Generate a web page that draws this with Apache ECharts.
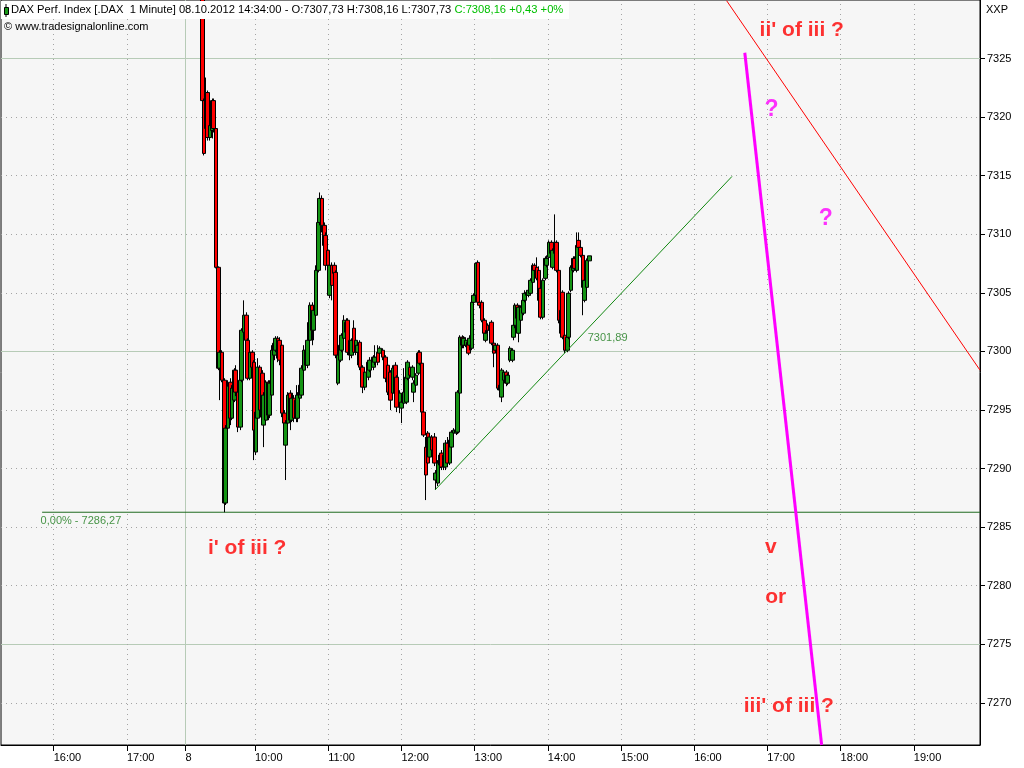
<!DOCTYPE html>
<html><head><meta charset="utf-8">
<script src="https://cdn.jsdelivr.net/npm/echarts@6/dist/echarts.min.js"></script>
<style>html,body{margin:0;padding:0;background:#fff}#c{width:1024px;height:768px}</style>
</head><body><div id="c"></div>
<script>
// ---- time of each candle: minutes after 09:00 on 08.10.2012 ----
const candleTimes = [
17,18,20,21,23,25,26,28,30,31,
33,35,36,38,40,41,43,44,46,48,
49,51,53,54,56,58,59,61,62,64,
66,67,69,71,72,74,76,77,79,80,
82,84,85,87,89,90,92,94,95,97,
98,100,102,103,105,107,108,110,112,113,
115,117,118,120,121,123,125,126,128,130,
131,133,135,136,138,139,141,143,144,146,
148,150,153,154,157,158,161,162,165,167,
169,171,173,175,176,179,180,182,184,185,
187,189,190,192,194,195,197,198,200,202,
203,205,207,208,210,212,213,215,216,218,
220,221,223,225,226,228,230,231,233,235,
236,238,239,241,243,244,246,248,249,251,
253,254,256,257,259,261,262,264,266,267,
269,271,272,273,275,276,278,280,281,283,
284,286,288,289,291,293,294,296,298,299,
301,303,304,306,307,309,311,312,314,316,
317,319,321,322,324,325,327,329,330,332,
334];
const opens = [
7333.5,7321.41,7319.03,7322.10,7318.26,7318.86,7321.41,7319.03,7307.18,7298.57,
7299.93,7297.54,7287.06,7293.45,7297.37,7294.30,7295.84,7298.40,7296.52,7293.54,
7297.54,7301.64,7303.09,7300.95,7297.71,7299.93,7299.08,7291.41,7294.30,7298.65,
7298.14,7293.71,7294.13,7297.37,7294.56,7296.27,7299.68,7300.10,7301.12,7300.95,
7300.53,7294.73,7292.00,7293.88,7296.44,7294.13,7296.01,7295.84,7294.30,7296.01,
7296.27,7298.40,7300.10,7298.82,7300.95,7303.94,7301.81,7303.09,7306.92,7311.01,
7313.06,7310.76,7309.91,7308.63,7304.79,7307.35,7307.35,7306.75,7297.29,7299.25,
7300.10,7301.12,7302.49,7302.66,7300.95,7299.68,7301.98,7299.93,7299.93,7300.78,
7298.65,7296.95,7297.80,7298.40,7298.65,7299.08,7299.93,7299.85,7300.10,7299.51,
7298.82,7298.23,7296.44,7298.82,7297.80,7295.24,7295.16,7295.58,7295.67,7297.71,
7298.65,7297.80,7296.52,7297.12,7298.14,7299.93,7298.99,7294.82,7291.83,7293.03,
7290.98,7292.69,7292.69,7289.02,7288.76,7290.30,7291.32,7290.13,7290.13,7292.17,
7290.47,7291.83,7293.03,7293.03,7293.11,7296.44,7301.21,7300.53,7300.53,7300.78,
7300.53,7300.27,7304.19,7304.79,7307.60,7304.19,7304.19,7302.66,7300.95,7302.23,
7301.81,7302.49,7300.70,7300.10,7300.53,7296.69,7296.10,7297.54,7298.23,7297.29,
7299.25,7299.25,7301.21,7302.23,7303.94,7301.55,7302.66,7303.26,7304.36,7304.79,
7304.79,7304.96,7305.90,7307.35,7307.18,7306.92,7305.39,7302.92,7306.24,7307.35,
7308.03,7309.31,7307.18,7308.37,7309.31,7306.92,7301.55,7305.05,7301.38,7300.10,
7301.21,7305.22,7306.92,7307.94,7306.92,7309.48,7308.88,7308.20,7304.36,7305.47,
7307.73];
const closes = [
7321.41,7316.90,7322.10,7318.26,7319.28,7321.41,7319.03,7307.18,7298.57,7299.93,
7297.54,7287.06,7293.45,7297.03,7294.30,7296.86,7298.40,7296.52,7293.54,7297.54,
7301.81,7303.09,7300.95,7297.71,7299.93,7298.65,7293.28,7294.82,7298.65,7294.99,
7294.39,7296.27,7297.37,7294.56,7297.29,7300.10,7300.70,7301.12,7299.42,7299.25,
7294.73,7293.88,7293.88,7296.27,7294.13,7296.01,7294.30,7294.30,7296.27,7297.12,
7298.57,7300.10,7298.82,7300.95,7303.94,7301.81,7303.51,7306.92,7311.01,7313.06,
7310.76,7309.05,7307.35,7307.35,7307.35,7305.64,7306.67,7299.68,7299.68,7300.53,
7301.38,7302.66,7301.64,7299.93,7299.68,7300.95,7299.93,7300.95,7300.53,7298.65,
7296.95,7298.23,7299.08,7299.25,7299.51,7299.51,7299.08,7300.27,7299.51,7297.71,
7296.52,7295.84,7298.57,7296.44,7295.24,7296.44,7295.67,7296.52,7297.80,7299.08,
7297.97,7298.65,7297.29,7297.97,7299.85,7298.99,7294.82,7292.86,7289.45,7290.47,
7292.69,7291.58,7290.47,7289.62,7290.47,7291.15,7290.13,7291.15,7292.17,7290.47,
7292.43,7293.11,7293.28,7293.28,7296.52,7301.21,7300.53,7301.12,7300.95,7299.85,
7301.12,7304.19,7304.79,7307.52,7304.19,7303.94,7302.66,7301.55,7301.55,7301.81,
7302.23,7300.70,7299.85,7300.53,7296.86,7297.12,7298.40,7298.23,7297.29,7297.97,
7300.27,7300.10,7302.23,7303.94,7302.83,7303.77,7303.77,7304.36,7304.96,7305.05,
7305.22,7306.07,7307.35,7306.92,7306.24,7304.36,7302.92,7306.07,7307.94,7307.94,
7309.31,7308.37,7308.63,7309.31,7306.92,7302.66,7303.51,7301.21,7300.10,7301.21,
7304.96,7307.18,7307.94,7307.09,7309.05,7308.88,7308.20,7305.47,7306.07,7307.77,
7308.16];
const lows = [
7321.24,7316.73,7318.00,7318.00,7318.00,7318.18,7318.69,7307.09,7298.40,7295.84,
7297.37,7286.27,7286.89,7293.28,7293.71,7294.13,7295.67,7296.18,7293.11,7293.28,
7297.37,7301.38,7300.53,7297.54,7297.54,7297.97,7290.72,7291.15,7294.13,7294.48,
7294.13,7291.83,7293.71,7294.13,7294.30,7295.84,7299.25,7299.93,7299.08,7298.82,
7294.39,7293.45,7289.02,7293.28,7293.28,7293.96,7293.96,7293.96,7293.96,7295.84,
7296.10,7298.23,7298.57,7298.57,7300.53,7300.53,7300.95,7302.83,7306.75,7310.76,
7310.16,7308.63,7306.92,7307.09,7304.54,7304.36,7306.33,7299.42,7297.12,7299.08,
7299.93,7300.95,7301.38,7299.68,7299.25,7299.42,7299.68,7299.68,7298.82,7298.40,
7296.44,7296.69,7297.54,7298.23,7298.40,7298.82,7298.82,7299.59,7299.25,7297.37,
7296.27,7294.99,7296.18,7296.18,7294.82,7294.73,7293.88,7295.41,7295.50,7297.54,
7297.71,7297.54,7295.67,7296.86,7297.97,7298.82,7294.65,7292.69,7287.31,7290.30,
7290.72,7291.15,7290.21,7288.17,7288.51,7290.04,7289.87,7289.87,7289.87,7290.30,
7290.30,7291.58,7292.77,7292.86,7292.94,7296.27,7300.27,7300.27,7300.36,7299.68,
7300.10,7300.10,7303.94,7304.62,7304.02,7303.68,7302.49,7301.30,7300.78,7301.55,
7301.55,7300.53,7298.65,7299.93,7296.69,7296.27,7295.67,7297.29,7297.03,7297.12,
7299.08,7299.08,7300.95,7301.98,7302.49,7300.78,7302.06,7303.09,7304.19,7304.62,
7304.62,7304.79,7305.73,7306.75,7306.07,7304.19,7302.74,7302.74,7306.07,7307.18,
7307.86,7308.12,7307.01,7308.20,7306.75,7302.40,7301.38,7301.04,7299.85,7299.93,
7301.04,7305.05,7306.75,7306.92,7306.75,7308.71,7308.03,7303.09,7304.19,7305.30,
7307.73];
const highs = [
7335.00,7321.59,7323.38,7322.27,7319.54,7321.59,7321.59,7319.11,7307.26,7300.10,
7300.10,7297.71,7293.71,7297.54,7297.71,7297.12,7298.57,7298.82,7296.69,7297.71,
7301.98,7304.36,7303.34,7301.12,7300.10,7300.10,7299.25,7294.99,7299.42,7298.82,
7298.40,7296.52,7297.54,7297.54,7297.54,7300.53,7300.95,7301.30,7301.30,7301.21,
7300.70,7294.99,7294.13,7296.52,7296.69,7296.44,7296.27,7297.12,7296.52,7297.37,
7298.82,7300.53,7300.27,7302.49,7304.19,7304.19,7303.94,7307.35,7311.18,7313.57,
7313.32,7311.01,7310.16,7309.65,7307.60,7307.60,7307.60,7306.92,7299.93,7300.70,
7301.55,7303.09,7302.83,7302.83,7301.38,7301.12,7302.66,7301.12,7300.78,7300.95,
7298.82,7298.40,7299.25,7299.51,7299.68,7300.53,7300.53,7300.44,7300.27,7299.68,
7298.99,7298.40,7298.82,7299.08,7297.97,7296.69,7295.84,7298.57,7297.97,7299.25,
7298.82,7298.82,7297.54,7298.14,7300.10,7300.10,7299.16,7294.99,7292.69,7293.20,
7292.86,7292.86,7293.03,7289.87,7290.72,7291.32,7291.58,7291.41,7292.43,7292.69,
7292.69,7293.28,7293.45,7293.45,7296.69,7301.38,7301.38,7301.30,7301.21,7300.95,
7301.38,7304.36,7304.96,7307.60,7307.77,7304.36,7304.36,7302.83,7301.81,7302.40,
7302.49,7302.66,7300.95,7300.70,7300.70,7297.29,7298.57,7298.40,7298.40,7298.14,
7300.44,7300.27,7302.40,7304.11,7304.11,7303.94,7303.94,7304.54,7305.22,7305.22,
7305.39,7306.24,7307.52,7307.52,7308.03,7307.26,7305.56,7306.24,7308.12,7308.20,
7309.48,7309.48,7308.80,7311.70,7309.48,7307.09,7303.68,7305.22,7301.55,7301.55,
7305.13,7307.35,7308.12,7308.12,7310.16,7310.16,7309.05,7308.37,7306.24,7307.94,
7308.16];

// ---- axes ----
const xMin = -148.2, xMax = 654.3;            // minutes after 09:00 (compressed session time)
const xTickValues = [-105,-45,3,60,120,180,240,300,360,420,480,540,600];
const xTickLabels = ['16:00','17:00','8','10:00','11:00','12:00','13:00','14:00','15:00','16:00','17:00','18:00','19:00'];
const daySeparator = 3;
const yMin = 7266.4, yMax = 7330;
const yTickValues = [7270,7275,7280,7285,7290,7295,7300,7305,7310,7315,7320,7325];
const ySolidGrid = [7275,7300,7325];

// ---- drawings ----
const lowLevel = 7286.27, lowLevelStart = -114.5;
const lowLevelText = '0,00% - 7286,27';
const trendLine = [[207.5,7288.17],[451,7314.94]];
const trendValueAt = [334,7301.89], trendValueText = '7301,89';
const resistanceLine = [[446.6,7329.94],[654.3,7298.4]];
const projectionLine = [[461.5,7325.5],[524.5,7266.4]];
const noteTexts  = ["ii' of iii ?","i' of iii ?","v","or","iii' of iii ?"];
const noteTimes  = [508.2,53.6,482.8,486.9,497.6];
const notePrices = [7327.4,7283.2,7283.3,7279.05,7269.75];
const qTimes = [483.5,527.8], qPrices = [7320.65,7311.35];

const FONT = '"Liberation Sans", Arial, sans-serif';
const GRIDGREEN = '#b7cbb7';
const DOT = '#a4a4a4';

const gridLines = [];
yTickValues.forEach(v => gridLines.push({yAxis: v, lineStyle: ySolidGrid.includes(v)
  ? {color: GRIDGREEN, type: 'solid', width: 1} : {color: DOT, type: [1,4], width: 1}}));
xTickValues.forEach(v => gridLines.push({xAxis: v, lineStyle: v === daySeparator
  ? {color: GRIDGREEN, type: 'solid', width: 1} : {color: DOT, type: [1,4], width: 1}}));

const candleData = candleTimes.map((t,i) => [t, opens[i], closes[i], lows[i], highs[i]]);

const chart = echarts.init(document.getElementById('c'));
chart.setOption({
  animation: false,
  backgroundColor: '#fff',
  grid: {left: 1, top: 0, width: 979, height: 745, show: true, backgroundColor: '#f6f6f6',
         borderColor: '#000', borderWidth: 1},
  xAxis: {
    type: 'value', min: xMin, max: xMax,
    axisLine: {show: true, onZero: false, lineStyle: {color: '#000'}},
    axisTick: {show: true, customValues: xTickValues, length: 6, lineStyle: {color: '#000'}},
    axisLabel: {customValues: xTickValues, formatter: v => xTickLabels[xTickValues.indexOf(v)],
                align: 'left', margin: 7, color: '#000', fontSize: 11, fontFamily: FONT},
    splitLine: {show: false}
  },
  yAxis: {
    type: 'value', position: 'right', min: yMin, max: yMax, scale: true,
    axisLine: {show: true, onZero: false, lineStyle: {color: '#000'}},
    axisTick: {show: true, customValues: yTickValues, length: 5, lineStyle: {color: '#000'}},
    axisLabel: {customValues: yTickValues, formatter: v => String(v), margin: 7, color: '#000',
                fontSize: 11, fontFamily: FONT},
    splitLine: {show: false}
  },
  graphic: [
    {type: 'rect', left: 1, top: 1, z: 100, shape: {width: 568, height: 18}, style: {fill: '#fff'}},
    {type: 'rect', left: 4, top: 7, z: 101, shape: {width: 4, height: 7}, style: {fill: '#1a9a1a', stroke: '#000', lineWidth: 1}},
    {type: 'rect', left: 5.5, top: 4, z: 100, shape: {width: 1, height: 13}, style: {fill: '#000'}},
    {type: 'text', left: 11, top: 4, z: 102, style: {
      text: '{a|DAX Perf. Index [.DAX  1 Minute] 08.10.2012 14:34:00 - O:7307,73 H:7308,16 L:7307,73 }{b|C:7308,16 +0,43 +0%}',
      rich: {a: {fill: '#000', font: '11.2px ' + FONT}, b: {fill: '#00c000', font: '11.2px ' + FONT}},
      font: '11.2px ' + FONT}},
    {type: 'text', left: 4, top: 21, z: 102, style: {text: '© www.tradesignalonline.com', fill: '#000', font: '11px ' + FONT}},
    {type: 'text', left: 986, top: 4, z: 102, style: {text: 'XXP', fill: '#000', font: '11px ' + FONT}}
  ],
  series: [
    {
      type: 'line', data: [[lowLevelStart, lowLevel], [xMax, lowLevel]], symbol: 'none', z: 1,
      lineStyle: {color: '#1f6b1f', width: 1}, silent: true,
      markLine: {silent: true, z: 1, symbol: ['none','none'], label: {show: false}, animation: false, data: gridLines}
    },
    {
      type: 'candlestick', data: candleData, encode: {x: 0, y: [1,2,3,4]}, barWidth: 4, z: 3, clip: true,
      itemStyle: {color: '#149414', color0: '#ff0000', borderColor: '#000', borderColor0: '#000', borderWidth: 1}
    },
    {type: 'line', data: trendLine, symbol: 'none', z: 4, lineStyle: {color: '#118811', width: 1}, silent: true},
    {type: 'line', data: resistanceLine, symbol: 'none', z: 4, lineStyle: {color: '#ff0000', width: 1}, silent: true},
    {type: 'line', data: projectionLine, symbol: 'none', z: 4, lineStyle: {color: '#ff00ff', width: 3}, silent: true},
    {
      type: 'scatter', z: 5, symbol: 'rect', symbolSize: 1, itemStyle: {color: 'rgba(0,0,0,0)'}, silent: true,
      data: [{value: [lowLevelStart, lowLevel], name: lowLevelText}, {value: trendValueAt, name: trendValueText}],
      label: {show: true, position: [-1, 4], align: 'left', verticalAlign: 'top', formatter: p => p.name,
              color: '#1a7a1a', fontSize: 11, fontFamily: FONT}
    },
    {
      type: 'scatter', z: 5, symbol: 'rect', symbolSize: 1, itemStyle: {color: 'rgba(0,0,0,0)'}, silent: true,
      data: noteTexts.map((s,i) => ({value: [noteTimes[i], notePrices[i]], name: s})),
      label: {show: true, position: 'inside', formatter: p => p.name, color: '#ff0000',
              fontSize: 21, fontWeight: 'bold', fontFamily: FONT}
    },
    {
      type: 'scatter', z: 5, symbol: 'rect', symbolSize: 1, itemStyle: {color: 'rgba(0,0,0,0)'}, silent: true,
      data: qTimes.map((t,i) => ({value: [t, qPrices[i]], name: '?'})),
      label: {show: true, position: 'inside', formatter: p => p.name, color: '#ff00ff',
              fontSize: 23, fontWeight: 'bold', fontFamily: FONT}
    }
  ]
});
</script></body></html>
